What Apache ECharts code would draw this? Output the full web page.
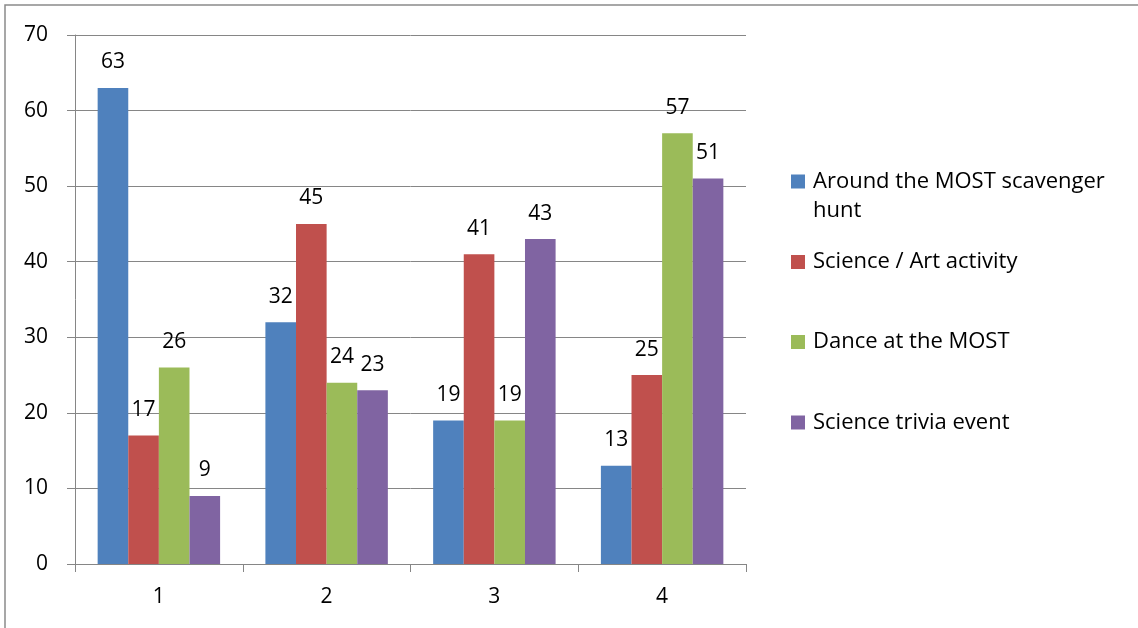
<!DOCTYPE html>
<html><head><meta charset="utf-8">
<script src="https://cdn.jsdelivr.net/npm/echarts@6/dist/echarts.min.js"></script>
<style>html,body{margin:0;padding:0;background:#fff}#c{width:1138px;height:628px}</style>
</head><body><div id="c"></div>
<script>
const categories = ['1', '2', '3', '4'];
const seriesNames = ['Around the MOST scavenger hunt', 'Science / Art activity', 'Dance at the MOST', 'Science trivia event'];
const scavengerHunt = [63, 32, 19, 13];
const scienceArt = [17, 45, 41, 25];
const dance = [26, 24, 19, 57];
const trivia = [9, 23, 43, 51];
const colors = ['#4F81BD', '#C0504D', '#9BBB59', '#8064A2'];
const FONT = 'Open Sans';
const values = [scavengerHunt, scienceArt, dance, trivia];

const chart = echarts.init(document.getElementById('c'));
const iconCenters = [181.5, 262, 342, 422.5];
const legends = seriesNames.map((n, i) => ({
  data: [n],
  orient: 'vertical',
  left: 791,
  top: i === 0 ? iconCenters[0] - 43.5 : iconCenters[i] - 14.5,
  padding: 0,
  itemWidth: 14,
  itemHeight: 14,
  itemGap: 6,
  icon: 'rect',
  selectedMode: false,
  formatter: name => name === seriesNames[0] ? ' \nAround the MOST scavenger\nhunt' : name,
  textStyle: {fontFamily: FONT, fontSize: 22, color: '#000', lineHeight: 29, padding: [0, 0, 0, 3]}
}));

chart.setOption({
  animation: false,
  color: colors,
  graphic: [{type: 'rect', shape: {x: 5, y: 5, width: 1140, height: 630}, style: {fill: 'none', stroke: '#8a8a8a', lineWidth: 1.5}, z: -1}],
  legend: legends,
  grid: {left: 75, top: 35, right: 392, bottom: 64, containLabel: false},
  xAxis: {
    type: 'category', data: categories,
    axisLine: {lineStyle: {color: '#868686', width: 1}},
    axisTick: {show: true, length: 8, lineStyle: {color: '#868686'}},
    axisLabel: {fontFamily: FONT, fontSize: 21, color: '#000', margin: 23}
  },
  yAxis: {
    type: 'value', min: 0, max: 70, interval: 10,
    axisLine: {show: true, lineStyle: {color: '#868686', width: 1}},
    axisTick: {show: true, length: 8, lineStyle: {color: '#868686'}},
    splitLine: {lineStyle: {color: '#868686', width: 1}},
    axisLabel: {fontFamily: FONT, fontSize: 21, color: '#000', margin: 27}
  },
  series: seriesNames.map((n, i) => ({
    name: n, type: 'bar', data: values[i],
    barGap: '0%', barCategoryGap: '27%',
    itemStyle: {color: colors[i]},
    label: {show: true, position: 'top', distance: 15, fontFamily: FONT, fontSize: 21, color: '#000'}
  }))
});
</script></body></html>
